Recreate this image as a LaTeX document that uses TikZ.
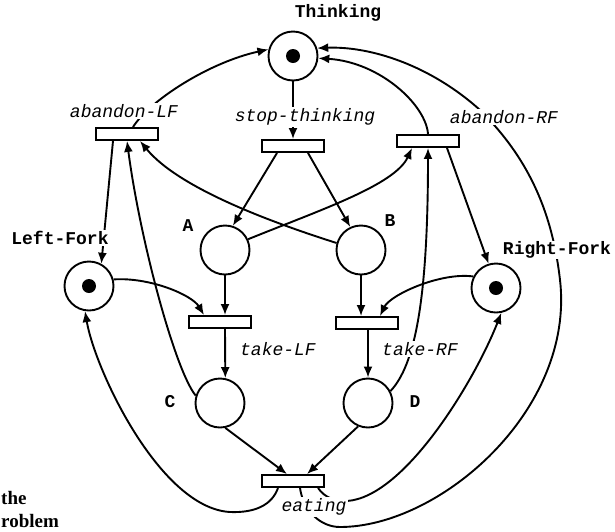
\documentclass[tikz,border=0pt]{standalone}
\usepackage{fontspec}
\setmonofont{Liberation Mono}
\newfontfamily\tmsfont{Liberation Serif}
\usetikzlibrary{arrows.meta}
\begin{document}
\begin{tikzpicture}[x=1pt,y=1pt,
  place/.style={circle, draw, line width=1.9pt, minimum size=49pt, inner sep=0pt},
  trans/.style={rectangle, draw, line width=1.9pt, minimum width=62pt, minimum height=12pt, inner sep=0pt},
  tok/.style={circle, fill, minimum size=14pt, inner sep=0pt},
  arr/.style={line width=1.9pt, -{Latex[length=11pt,width=9pt]}},
  plabel/.style={font=\fontsize{18}{18}\selectfont\ttfamily\bfseries, fill=white, inner sep=1pt},
  tlabel/.style={font=\fontsize{18}{18}\selectfont\ttfamily\itshape, fill=white, inner sep=1.5pt},
  cutlabel/.style={font=\fontsize{19}{19}\selectfont\tmsfont\bfseries, inner sep=0pt, anchor=base west}
]
\useasboundingbox (0,0) rectangle (615,-531);

% places
\node[place] (think) at (293,-56) {};
\node[place] (A) at (225,-250) {};
\node[place] (B) at (361,-250) {};
\node[place] (LF) at (89,-286) {};
\node[place] (RF) at (496,-288) {};
\node[place] (C) at (220,-403) {};
\node[place] (D) at (368,-403) {};
% tokens
\node[tok] (thinktok) at (think) {};
\node[tok] (lftok) at (LF) {};
\node[tok] (rftok) at (RF) {};
% transitions
\node[trans] (stop) at (293,-146) {};
\node[trans] (aLF) at (127,-134) {};
\node[trans] (aRF) at (428,-141) {};
\node[trans] (tLF) at (220,-322) {};
\node[trans] (tRF) at (367,-323) {};
\node[trans] (eat) at (293,-481) {};

% arcs
\draw[arr] (think) -- (stop);
\draw[arr] ([xshift=-16pt]stop.south) -- (A.72);
\draw[arr] ([xshift=15pt]stop.south) -- (B.115);
\draw[arr] (A.south) -- (A.south |- tLF.north);
\draw[arr] (B.south) -- (B.south |- tRF.north);
\draw[arr] (LF.15) .. controls (150,-277) and (192,-295) .. ([xshift=-16pt]tLF.north);
\draw[arr] (RF.153) .. controls (440,-272) and (390,-295) .. ([xshift=13pt]tRF.north);
\draw[arr] ([xshift=5pt]tLF.south) -- (C.78);
\draw[arr] ([xshift=1pt]tRF.south) -- (D.north);
\draw[arr] (C.-78) -- ([xshift=-6pt]eat.north);
\draw[arr] (D.-113) -- ([xshift=14pt]eat.north);
\draw[arr] ([xshift=-15pt]eat.south) .. controls (272,-505) and (255,-513) .. (230,-512)
   .. controls (160,-508) and (95,-370) .. (LF.-99);
\draw[arr] ([xshift=25pt]eat.south) .. controls (325,-498) and (335,-501) .. (347,-501)
   .. controls (405,-497) and (475,-380) .. (RF.-78);
\draw[arr] ([xshift=7pt]eat.south) .. controls (303,-510) and (320,-527) .. (340,-527)
   .. controls (440,-527) and (575,-410) .. (560,-280)
   .. controls (551,-200) and (520,-150) .. (480,-110)
   .. controls (430,-65) and (370,-46) .. (think.18);
\draw[arr] (aRF.north) .. controls (426,-105) and (380,-62) .. (think.-5);
\draw[arr] ([xshift=19pt]aRF.south) -- (RF.107);
\draw[arr] (D.28) .. controls (415,-365) and (428,-300) .. (aRF.south);
\draw[arr] (A.25) .. controls (320,-210) and (395,-185) .. ([xshift=-16pt]aRF.south);
\draw[arr] (B.164) .. controls (280,-225) and (180,-190) .. ([xshift=13pt]aLF.south);
\draw[arr] (C.163) .. controls (175,-370) and (140,-240) .. (aLF.south);
\draw[arr] ([xshift=-14pt]aLF.south) -- (LF.61);
\draw[arr] ([xshift=6pt]aLF.north) .. controls (150,-100) and (210,-62) .. (think.165);

% labels
\node[plabel] (lthink) at (338,-13) {Thinking};
\node[tlabel] (lstop) at (305,-117) {stop-thinking};
\node[tlabel] (laLF) at (124,-111) {abandon-LF};
\node[tlabel] (laRF) at (504,-117) {abandon-RF};
\node[plabel] (lLF) at (60,-238) {Left-Fork};
\node[plabel] (lRF) at (557,-250) {Right-Fork};
\node[plabel] (lA) at (188,-226) {A};
\node[plabel] (lB) at (390,-221) {B};
\node[tlabel] (ltLF) at (278,-349) {take-LF};
\node[tlabel] (ltRF) at (420,-349) {take-RF};
\node[plabel] (lC) at (170,-402) {C};
\node[plabel] (lD) at (415,-402) {D};
\node[tlabel] (leat) at (314,-507) {eating};
\node[cutlabel] (lthe) at (1,-504) {the};
\node[cutlabel] (lprob) at (1,-527) {roblem};
\end{tikzpicture}
\end{document}
